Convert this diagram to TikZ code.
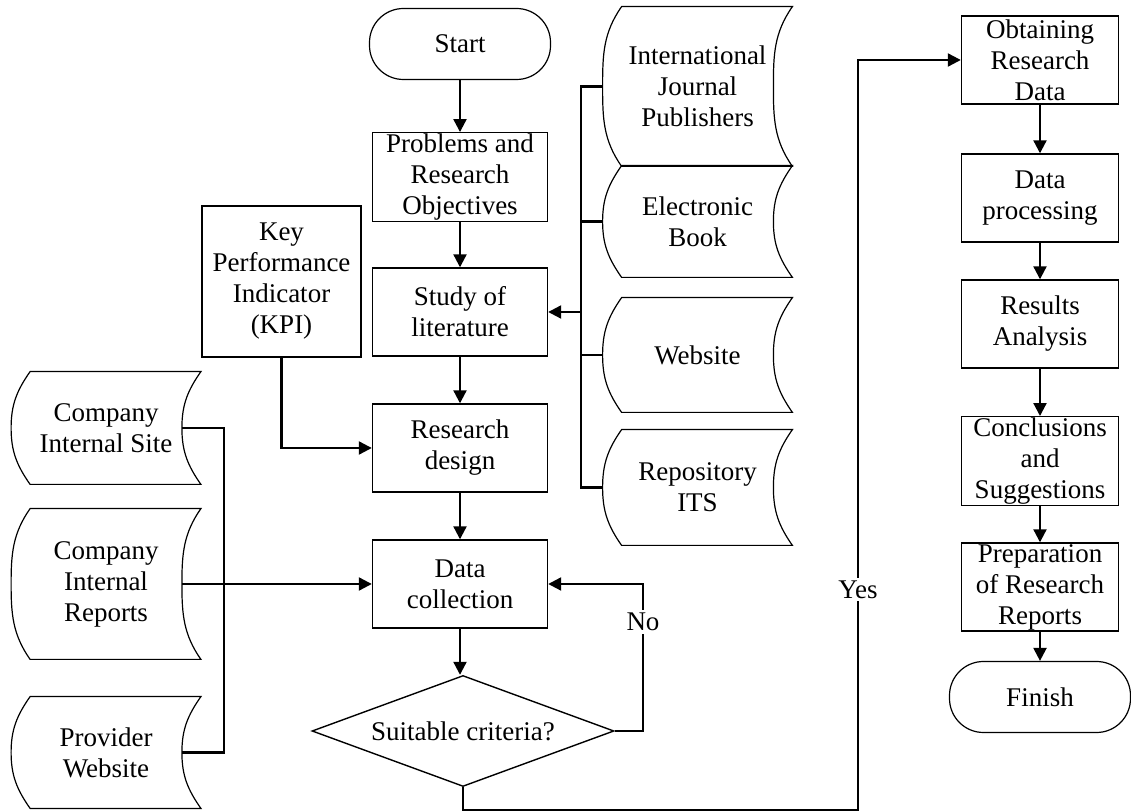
\documentclass[tikz,border=0pt]{standalone}
\usepackage{fontspec}
\setmainfont{Liberation Serif}
\usetikzlibrary{arrows.meta}
\usetikzlibrary{shapes.geometric}
\usetikzlibrary{calc}

\tikzset{
  box/.style={draw, rectangle, align=center, line width=0.7pt, inner sep=0.5pt},
  term/.style={draw, rectangle, rounded corners=17pt, line width=0.6pt},
  store/.style={rectangle, align=center, inner sep=0.5pt},
  link/.style={line width=1.1pt},
  arr/.style={link, -{Triangle[width=6.5pt,length=6.5pt]}}
}

\begin{document}
\begin{tikzpicture}[x=0.5pt, y=-0.5pt, every node/.style={font=\fontsize{13.5}{15.5}\selectfont}]
	\useasboundingbox (0,0) rectangle (1131,812);
	% main column
	\begin{scope}[every node/.append style={box, minimum width=87.5pt, minimum height=44pt}]
		\node[term, minimum width=90.5pt, minimum height=35.5pt] (start) at (460,44) {Start};
		\node (prob) at (460,177) {Problems and\\Research\\Objectives};
		\node (study) at (460,312) {Study of\\literature};
		\node (design) at (460,448) {Research\\design};
		\node (collect) at (460,584) {Data\\collection};
		\node[minimum width=79.5pt, minimum height=75.5pt] (kpi) at (281.5,281.5) {Key\\Performance\\Indicator\\(KPI)};
	\end{scope}
	\node[draw, diamond, aspect=2.7, minimum width=151pt, minimum height=55.5pt,
	      inner sep=0pt, line width=0.7pt] (crit) at (463,731) {Suitable criteria?};
	% right column
	\begin{scope}[every node/.append style={box, minimum width=78.5pt, minimum height=44pt}]
		\node (obtain) at (1040,60) {Obtaining\\Research\\Data};
		\node (proc) at (1040,198) {Data\\processing};
		\node (result) at (1040,324) {Results\\Analysis};
		\node (concl) at (1040,461) {Conclusions\\and\\Suggestions};
		\node (prep) at (1040,587) {Preparation\\of Research\\Reports};
		\node[term, minimum width=90.5pt, minimum height=35.5pt] (finish) at (1040,697) {Finish};
	\end{scope}
	% stored data sources
	\begin{scope}[every node/.append style={store, minimum width=94.5pt}]
		\node[minimum height=79.5pt] (intl) at (697.5,86.5) {International\\Journal\\Publishers};
		\node[minimum height=55.5pt] (ebook) at (697.5,221.5) {Electronic\\Book};
		\node[minimum height=57pt] (web) at (697.5,355) {Website};
		\node[minimum height=57.5pt] (repo) at (697.5,487.5) {Repository\\ITS};
		\node[minimum height=56pt] (site) at (106,428) {Company\\Internal Site};
		\node[minimum height=75pt] (reports) at (106,584) {Company\\Internal\\Reports};
		\node[minimum height=55.5pt] (provider) at (106,752.5) {Provider\\Website};
	\end{scope}
	\foreach \n in {intl,ebook,web,repo,site,reports,provider}
		\draw[line width=0.6pt] ([xshift=9.5pt]\n.north west) to[out=235,in=90] (\n.west)
			to[out=270,in=125] ([xshift=9.5pt]\n.south west) -- (\n.south east)
			to[out=125,in=270] ([xshift=-9.5pt]\n.east) to[out=90,in=235] (\n.north east) -- cycle;
	% flow
	\draw[arr] (start) -- (prob);
	\draw[arr] (prob) -- (study);
	\draw[arr] (study) -- (design);
	\draw[arr] (design) -- (collect);
	\draw[arr] (collect) -- (collect.south |- crit.north);
	\draw[arr] (kpi.south) |- (design.west);
	% literature sources
	\coordinate (rbus) at (581,312);
	\draw[arr] (rbus) -- (study.east);
	\draw[link] (intl.west) -| (rbus);
	\draw[link] (repo.west) -| (rbus);
	\draw[link] (ebook.west) -- (ebook.west -| rbus);
	\draw[link] (web.west) -- (web.west -| rbus);
	% company sources
	\coordinate (lbus) at (224,584);
	\draw[arr] ([xshift=-9.5pt]reports.east) -- (collect.west);
	\draw[link] ([xshift=-9.5pt]site.east) -| (lbus);
	\draw[link] ([xshift=-9.5pt]provider.east) -| (lbus);
	% decision
	\coordinate (nturn) at (643,731);
	\draw[arr] (crit.east) -- (nturn) |- node[pos=0.37, fill=white, inner sep=1.5pt]{No} (collect.east);
	\coordinate (ybend) at (858,810);
	\draw[arr] (crit.south) |- (ybend) |- node[pos=0.147, fill=white, inner sep=1.5pt]{Yes} (obtain.west);
	% right column
	\draw[arr] (obtain) -- (proc);
	\draw[arr] (proc) -- (result);
	\draw[arr] (result) -- (concl);
	\draw[arr] (concl) -- (prep);
	\draw[arr] (prep) -- (finish);
\end{tikzpicture}
\end{document}
